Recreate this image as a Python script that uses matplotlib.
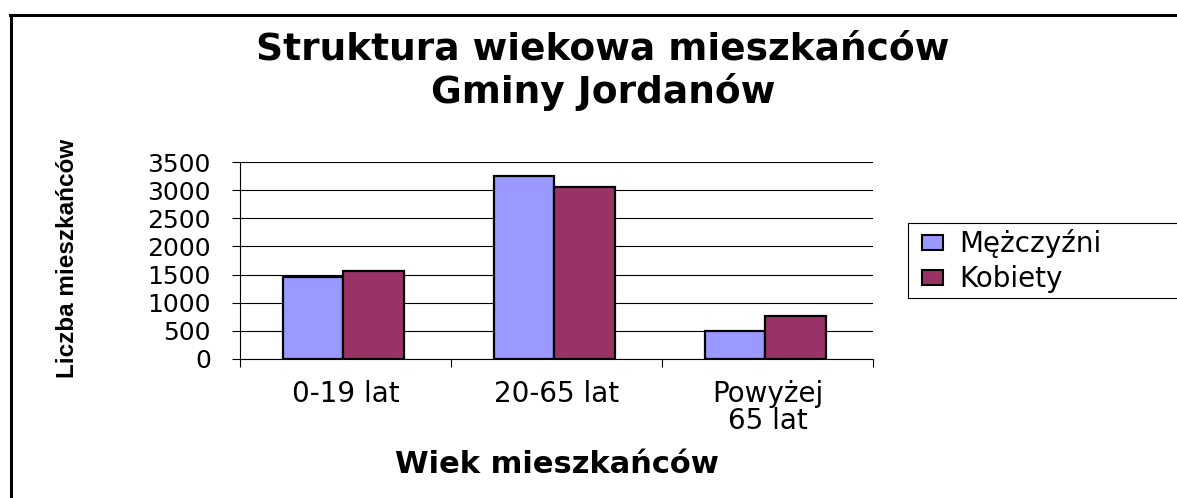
import matplotlib
matplotlib.use("Agg")
import matplotlib.pyplot as plt
import numpy as np
from matplotlib.patches import Patch, Rectangle
from matplotlib.lines import Line2D

categories = ["0-19 lat", "20-65 lat", "Powyżej\n65 lat"]
series_names = ["Mężczyźni", "Kobiety"]
men = [1460, 3250, 500]
women = [1555, 3055, 765]
yticks = [0, 500, 1000, 1500, 2000, 2500, 3000, 3500]
colors = ["#9999FF", "#993366"]

W, H = 1177, 498
fig = plt.figure(figsize=(W / 100, H / 100), dpi=100)
fig.patch.set_facecolor("white")

def fx(px):
    return px / W

def fy(py):
    return 1 - py / H

ax = fig.add_axes([fx(240), fy(359), fx(873) - fx(240), fy(162) - fy(359)])
x = np.arange(len(categories))
bw = 0.285
ax.bar(x - 0.01 - bw / 2, men, bw, color=colors[0], edgecolor="black", linewidth=1.6, zorder=3)
ax.bar(x - 0.01 + bw / 2, women, bw, color=colors[1], edgecolor="black", linewidth=1.6, zorder=3)

ax.set_xlim(-0.5, 2.5)
ax.set_ylim(0, 3500)
ax.set_yticks(yticks)
ax.set_yticklabels([str(v) for v in yticks], fontsize=18, family="DejaVu Sans")
ax.set_xticks([-0.5, 0.5, 1.5, 2.5], minor=False)
ax.set_xticklabels([])
ax.set_xticks(x, minor=True)
ax.set_xticklabels(categories, minor=True, fontsize=20, family="DejaVu Sans",
                   linespacing=0.95)
ax.tick_params(axis="x", which="minor", length=0, pad=15)
ax.tick_params(axis="x", which="major", length=6, width=0.8, direction="out")
ax.tick_params(axis="y", length=6, width=0.8, direction="out", pad=15)
ax.yaxis.grid(True, color="black", linewidth=0.8, zorder=0)
ax.set_axisbelow(True)
for s in ["top", "right"]:
    ax.spines[s].set_visible(False)
ax.spines["left"].set_linewidth(0.8)
ax.spines["bottom"].set_linewidth(0.8)
ax.set_facecolor("white")

# Titles
fig.text(fx(603), fy(50), "Struktura wiekowa mieszkańców", ha="center", va="center",
         fontsize=27, fontweight="bold", family="DejaVu Sans")
fig.text(fx(603), fy(92), "Gminy Jordanów", ha="center", va="center",
         fontsize=27, fontweight="bold", family="DejaVu Sans")
fig.text(fx(557), fy(464), "Wiek mieszkańców", ha="center", va="center",
         fontsize=22, fontweight="bold", family="DejaVu Sans")
fig.text(fx(68), fy(258), "Liczba mieszkańców", ha="center", va="center", rotation=90,
         fontsize=17.5, fontweight="bold", family="Liberation Sans")

# Legend
handles = [Patch(facecolor=colors[i], edgecolor="black", linewidth=1.5) for i in range(2)]
leg = fig.legend(handles, series_names, loc="center left", bbox_to_anchor=(fx(922), fy(261)),
                 frameon=False, handlelength=0.75, handleheight=0.45,
                 handletextpad=0.6, labelspacing=0.25, borderpad=0, borderaxespad=0,
                 prop={"family": "DejaVu Sans", "size": 20})
fig.patches.append(Rectangle((fx(908), fy(298)), fx(1180) - fx(908), fy(223) - fy(298),
                             transform=fig.transFigure, fill=False, edgecolor="black",
                             linewidth=0.8))

# Outer chart frame (left and top edges)
fig.lines.append(Line2D([fx(10.5), fx(10.5)], [fy(15), fy(500)], transform=fig.transFigure,
                        color="black", linewidth=2.2))
fig.lines.append(Line2D([fx(9.5), fx(1180)], [fy(15), fy(15)], transform=fig.transFigure,
                        color="black", linewidth=2.2))

fig.savefig("out.png", dpi=100)
